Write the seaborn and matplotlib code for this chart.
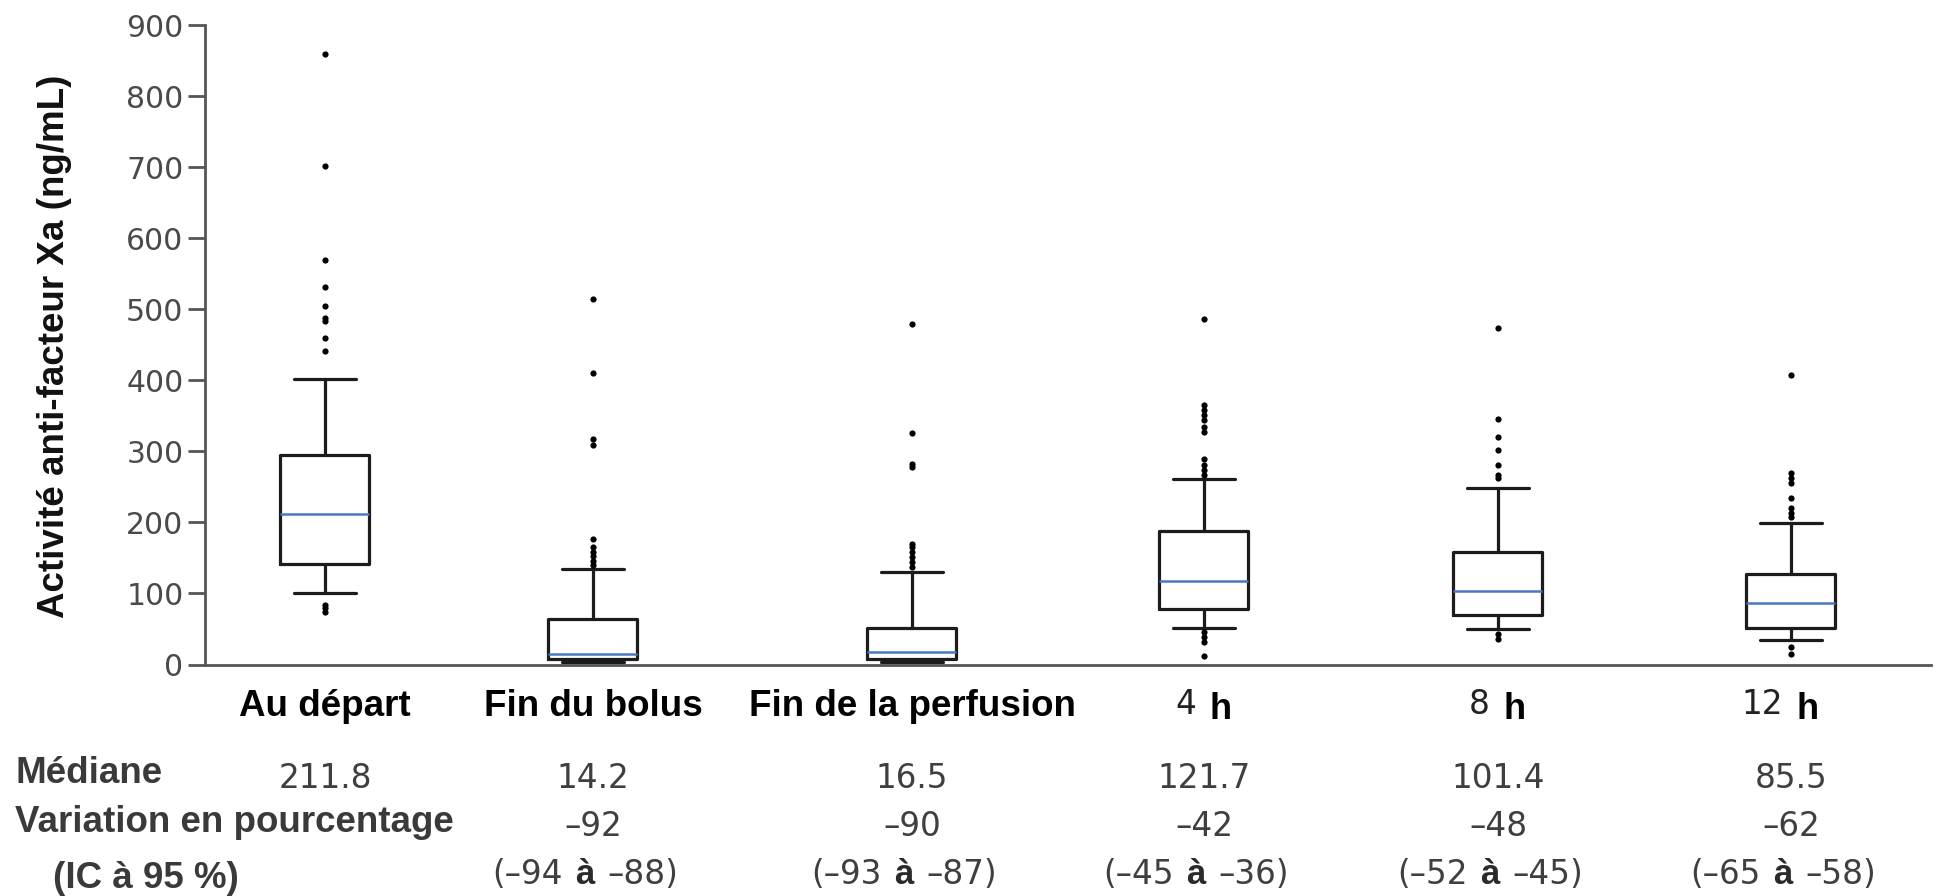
import numpy as np
import pandas as pd
import matplotlib
matplotlib.use("Agg")
import matplotlib.pyplot as plt
import matplotlib.transforms as mtransforms
import seaborn as sns

# values (ng/mL)
categories = ["Au départ", "Fin du bolus", "Fin de la perfusion", "4", "8", "12"]
unit_suffix = ["", "", "", "h", "h", "h"]
q1 = [142, 8.4, 8.4, 78, 69.4, 51.6]
median = [211.8, 15, 17, 118, 103, 86]
q3 = [295.5, 64, 52, 188, 158.6, 127]
whislo = [100.4, 3, 3, 52, 49.7, 34]
whishi = [402, 134, 130, 260.5, 249, 198.6]
outliers = {
    "Au départ": [860, 702.5, 569, 531, 505, 488, 483.5, 459.5, 442, 84, 79, 74.5],
    "Fin du bolus": [515, 410, 318, 309, 177, 166, 159, 152.5, 146, 140],
    "Fin de la perfusion": [480, 326, 283, 278, 170, 165, 159, 152, 145, 137.5],
    "4": [487, 365, 358, 351, 344, 335, 328, 289, 281, 274, 267, 46, 39, 32, 11.7],
    "8": [474, 346, 320, 302, 281, 267, 262, 43.6, 36.6],
    "12": [407, 270, 263, 255, 234, 220, 213, 207, 25, 14.5],
}

# table printed under the chart
median_txt = ["211.8", "14.2", "16.5", "121.7", "101.4", "85.5"]
variation_txt = ["", "–92", "–90", "–42", "–48", "–62"]
ci_low = ["", "(–94", "(–93", "(–45", "(–52", "(–65"]
ci_high = ["", "–88)", "–87)", "–36)", "–45)", "–58)"]

# layout (x in figure pixels)
W, H = 1940, 896
positions = [325, 593, 912, 1204, 1498, 1791]
box_width = 89
cap_width = 62

sns.set_style("white")
plt.rcParams["font.family"] = ["DejaVu Sans"]

fig = plt.figure(figsize=(W / 100, H / 100), dpi=100)
ax = fig.add_axes([205 / W, 1 - 664.5 / H, (1931 - 205) / W, (664.5 - 25.3) / H])

stats = []
for i, c in enumerate(categories):
    stats.append(dict(med=median[i], q1=q1[i], q3=q3[i],
                      whislo=whislo[i], whishi=whishi[i], fliers=[]))

line_col = "#1c1c1c"
ax.bxp(stats, positions=positions, widths=box_width, capwidths=cap_width,
       showfliers=False, manage_ticks=False,
       boxprops=dict(color=line_col, linewidth=2.3),
       whiskerprops=dict(color=line_col, linewidth=2.3),
       capprops=dict(color=line_col, linewidth=2.3),
       medianprops=dict(color="#4a78c2", linewidth=1.8))

rows = []
for i, c in enumerate(categories):
    for v in outliers[c]:
        rows.append({"x": positions[i], "val": v})
df = pd.DataFrame(rows)
sns.scatterplot(data=df, x="x", y="val", ax=ax, color="black", s=20,
                linewidth=0, legend=False, clip_on=False, zorder=3)

ax.set_xlim(205, 1931)
ax.set_ylim(0, 900)
ax.set_yticks(np.arange(0, 901, 100))
ax.set_xticks([])
ax.set_xlabel("")
ax.set_ylabel("")
for s in ["top", "right"]:
    ax.spines[s].set_visible(False)
for s in ["left", "bottom"]:
    ax.spines[s].set_color("#555555")
    ax.spines[s].set_linewidth(2)
ax.tick_params(axis="y", left=True, direction="out", length=12, width=2,
               color="#555555", pad=3.5, labelsize=21.5, labelcolor="#4a4a4a")

fig.text(55 / W, 1 - 346 / H, "Activité anti-facteur Xa (ng/mL)", rotation=90,
         ha="center", va="center", fontsize=26.5, fontweight="bold",
         family="Liberation Sans", color="#111111")

trans = mtransforms.blended_transform_factory(ax.transData, fig.transFigure)
bold = dict(family="Liberation Sans", fontweight="bold")
num = dict(family="DejaVu Sans", fontsize=23.5, color="#3f3f3f")


def fy(px):
    return 1 - px / H


for i, c in enumerate(categories):
    x = positions[i]
    if unit_suffix[i]:
        ax.text(x - 8, fy(714), c, transform=trans, ha="right", va="baseline",
                family="DejaVu Sans", fontsize=23.5, color="#222222")
        ax.text(x + 6, fy(719), unit_suffix[i], transform=trans, ha="left",
                va="baseline", fontsize=26, color="black", **bold)
    else:
        ax.text(x, fy(716), c, transform=trans, ha="center", va="baseline",
                fontsize=26.5, color="black", **bold)
    ax.text(x, fy(788), median_txt[i], transform=trans, ha="center",
            va="baseline", **num)
    if variation_txt[i]:
        ax.text(x, fy(836), variation_txt[i], transform=trans, ha="center",
                va="baseline", **num)
        xa = x - 8
        ax.text(xa, fy(884), "à", transform=trans, ha="center", va="baseline",
                fontsize=25, color="#2a2a2a", **bold)
        ax.text(xa - 22, fy(884), ci_low[i], transform=trans, ha="right",
                va="baseline", **num)
        ax.text(xa + 22, fy(884), ci_high[i], transform=trans, ha="left",
                va="baseline", **num)

row_lab = dict(fontsize=26.5, color="#3a3a3a", ha="left", va="baseline", **bold)
fig.text(15 / W, fy(783), "Médiane", **row_lab)
fig.text(15 / W, fy(832), "Variation en pourcentage", **row_lab)
fig.text(53 / W, fy(888), "(IC à 95 %)", **row_lab)

fig.savefig("out.png", dpi=100)
